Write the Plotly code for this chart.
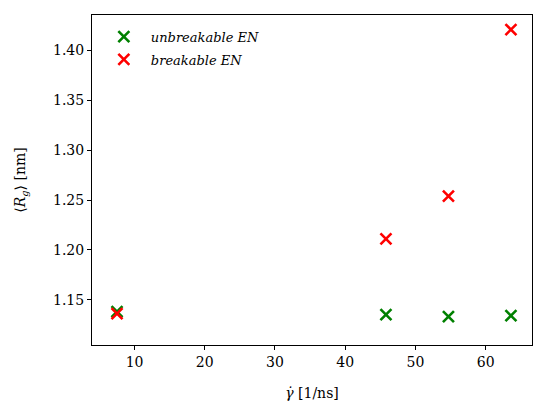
import plotly.graph_objects as go

shear_rate = [7.5, 45.8, 54.7, 63.6]
rg_unbreakable = [1.138, 1.135, 1.133, 1.134]
rg_breakable = [1.136, 1.211, 1.254, 1.421]
series_names = ["unbreakable EN", "breakable EN"]
x_ticks = [10, 20, 30, 40, 50, 60]
y_ticks = [1.15, 1.20, 1.25, 1.30, 1.35, 1.40]

FONT = "'DejaVu Serif', 'Liberation Serif', serif"

fig = go.Figure()
for i, (name, ys, col) in enumerate([(series_names[0], rg_unbreakable, "#008000"),
                                     (series_names[1], rg_breakable, "#ff0000")]):
    fig.add_trace(go.Scatter(
        x=shear_rate, y=ys, mode="markers", name=f"<i>{name}</i>",
        legendgroup=f"g{i}",
        marker=dict(symbol="x-thin", size=11, color=col,
                    line=dict(width=2.6, color=col)),
    ))

axis_common = dict(
    showline=True, linecolor="black", linewidth=1.1, mirror=True,
    ticks="outside", ticklen=4, tickwidth=1, tickcolor="black",
    showgrid=False, zeroline=False,
    tickfont=dict(family=FONT, size=14, color="black"),
)
fig.update_xaxes(range=[3.94, 66.6], tickvals=x_ticks,
                 ticktext=[str(v) for v in x_ticks],
                 title=dict(text="<i>γ\u0307</i> [1/ns]", standoff=19,
                            font=dict(family=FONT, size=14, color="black")),
                 **axis_common)
fig.update_yaxes(range=[1.1046, 1.4356], tickvals=y_ticks,
                 ticktext=[f"{v:.2f}" for v in y_ticks],
                 title=dict(text="⟨<i>R</i><sub><i>g</i></sub>⟩ [nm]", standoff=24,
                            font=dict(family=FONT, size=14, color="black")),
                 **axis_common)
fig.update_layout(
    width=533, height=405,
    margin=dict(l=92, r=1, t=15, b=60),
    paper_bgcolor="white", plot_bgcolor="white",
    showlegend=True,
    legend=dict(x=0.011, y=0.98, xanchor="left", yanchor="top",
                bgcolor="rgba(255,255,255,0)", borderwidth=0,
                font=dict(family=FONT, size=13, color="black"),
                itemwidth=44, tracegroupgap=3, traceorder="grouped"),
)
fig.write_html("out.html")
